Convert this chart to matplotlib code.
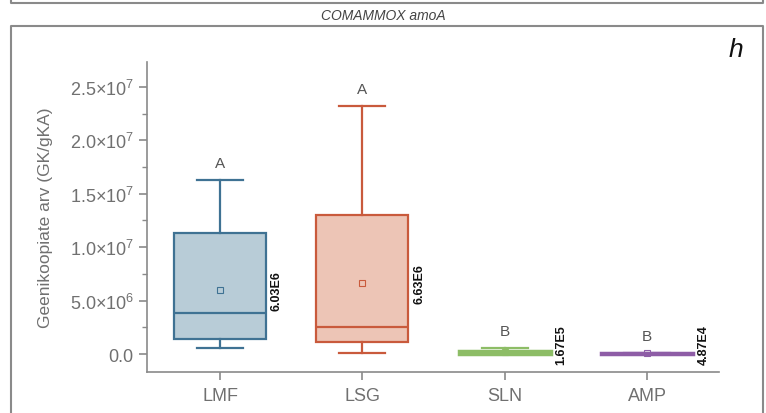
import numpy as np
import matplotlib.pyplot as plt
import matplotlib.ticker as ticker
from matplotlib.lines import Line2D

plt.rcParams['font.family'] = ['Liberation Sans', 'DejaVu Sans']
plt.rcParams['mathtext.fontset'] = 'custom'
plt.rcParams['mathtext.rm'] = 'Liberation Sans'
plt.rcParams['mathtext.it'] = 'Liberation Sans:italic'

# data
groups = ['LMF', 'LSG', 'SLN', 'AMP']
whislo = [0.56e6, 0.10e6, 0.0, 0.0]
q1 = [1.40e6, 1.12e6, 0.03e6, 0.02e6]
med = [3.84e6, 2.53e6, 0.10e6, 0.04e6]
q3 = [1.133e7, 1.30e7, 0.28e6, 0.06e6]
whishi = [1.63e7, 2.32e7, 0.55e6, 0.12e6]
means = [6.03e6, 6.63e6, 1.67e5, 4.87e4]
mean_labels = ['6.03E6', '6.63E6', '1.67E5', '4.87E4']
letters = ['A', 'A', 'B', 'B']

edge_colors = ['#3f7293', '#c95a3c', '#8dbd66', '#8e5da6']
fill_colors = ['#b8ccd7', '#edc5b6', '#b7d69e', '#c9b0d6']

grey = '#8a8a8a'
txt_grey = '#707070'

W, H = 766, 414
fig = plt.figure(figsize=(W / 100, H / 100), dpi=100)

# panel frames (bottom of previous panel, and this panel's border)
fig.add_artist(Line2D([11 / W, 11 / W, 763 / W, 763 / W], [1.0, 1 - 4 / H, 1 - 4 / H, 1.0],
                      transform=fig.transFigure, color=grey, lw=1.5))
fig.add_artist(Line2D([11 / W, 11 / W, 763 / W, 763 / W], [0.0, 1 - 27 / H, 1 - 27 / H, 0.0],
                      transform=fig.transFigure, color=grey, lw=1.5))
fig.text(383 / W, 1 - 16 / H, 'COMAMMOX amoA', ha='center', va='center',
         fontsize=10, style='italic', color='#444444')
fig.text(736 / W, 1 - 50 / H, 'h', ha='center', va='center', fontsize=19,
         style='italic', color='#111111')

ax = fig.add_axes([147 / W, 41 / H, 572 / W, 310 / H])

stats = []
for i in range(len(groups)):
    stats.append(dict(label=groups[i], whislo=whislo[i], q1=q1[i], med=med[i],
                      q3=q3[i], whishi=whishi[i], mean=means[i], fliers=[]))

pos = np.arange(1, len(groups) + 1)
bp = ax.bxp(stats, positions=pos, widths=0.646, patch_artist=True,
            showmeans=False, showfliers=False)

for i in range(len(groups)):
    bp['boxes'][i].set(facecolor=fill_colors[i], edgecolor=edge_colors[i], linewidth=1.6)
    bp['medians'][i].set(color=edge_colors[i], linewidth=1.6)
    for k in (2 * i, 2 * i + 1):
        bp['whiskers'][k].set(color=edge_colors[i], linewidth=1.6)
        bp['caps'][k].set(color=edge_colors[i], linewidth=1.6)
    if i >= 2:
        bp['boxes'][i].set(linewidth=2.5, facecolor=edge_colors[i])

    ax.plot(pos[i], means[i], marker='s', ms=4.5, mfc='none', mec=edge_colors[i], mew=0.8)
    ax.text(pos[i] + 0.40, max(means[i], 0.95e6), mean_labels[i], rotation=90,
            ha='center', va='center', fontsize=9, fontweight='bold', color='#111111')
    ax.text(pos[i], whishi[i] + 1.6e6, letters[i], ha='center', va='center',
            fontsize=11, color='#555555')

ax.set_xlim(0.487, 4.506)
ax.set_ylim(-1.685e6, 2.734e7)


def sci(v, p):
    if v == 0:
        return '0.0'
    e = int(np.floor(np.log10(abs(v))))
    m = v / 10 ** e
    return r'$\mathregular{%.1f{\times}10^{%d}}$' % (m, e)


ax.yaxis.set_major_locator(ticker.MultipleLocator(5e6))
ax.yaxis.set_minor_locator(ticker.MultipleLocator(2.5e6))
ax.yaxis.set_major_formatter(ticker.FuncFormatter(sci))
ax.set_xticks(pos)
ax.set_xticklabels(groups)

for s in ['top', 'right']:
    ax.spines[s].set_visible(False)
for s in ['left', 'bottom']:
    ax.spines[s].set_color(grey)
    ax.spines[s].set_linewidth(1.2)

ax.tick_params(axis='both', which='major', direction='out', length=6, width=1.2,
               color=grey, labelcolor=txt_grey, labelsize=13)
ax.tick_params(axis='y', which='minor', direction='out', length=3.5, width=1.0, color=grey)
ax.tick_params(axis='x', which='major', labelsize=13, pad=5)

ax.set_ylabel('Geenikoopiate arv (GK/gKA)', fontsize=12.5, color=txt_grey, labelpad=12)

fig.savefig('out.png', dpi=100)
